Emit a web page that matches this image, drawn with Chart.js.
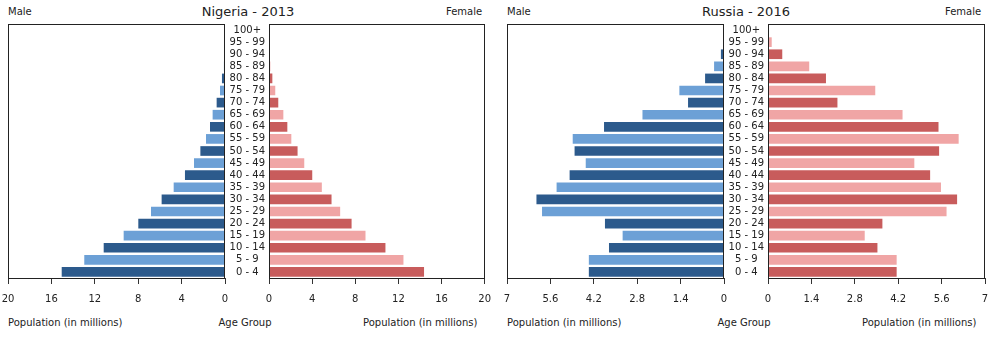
<!DOCTYPE html>
<html>
<head>
<meta charset="utf-8">
<script src="https://cdn.jsdelivr.net/npm/chart.js@4.4.0/dist/chart.umd.min.js"></script>
<style>
    body { margin: 0; background: #fff; overflow: hidden; }
    #wrap { position: relative; width: 994px; height: 350px; font-family: "DejaVu Sans", sans-serif; color: #222; }
    #wrap canvas { position: absolute; top: 0; }
    .lbl { position: absolute; font-size: 10px; line-height: 12px; white-space: nowrap; }
    .title { position: absolute; font-size: 13px; line-height: 16px; white-space: nowrap; transform: translateX(-50%); }
    .mid { transform: translateX(-50%); }
</style>
</head>
<body>
<div id="wrap">
    <div class="title" style="left:248px; top:4px">Nigeria - 2013</div>
    <div class="lbl" style="left:8px; top:6px">Male</div>
    <div class="lbl" style="left:446px; top:6px">Female</div>
    <div class="lbl" style="left:8px; top:317px">Population (in millions)</div>
    <div class="lbl mid" style="left:245px; top:317px">Age Group</div>
    <div class="lbl" style="left:363px; top:317px">Population (in millions)</div>

    <div class="title" style="left:746px; top:4px">Russia - 2016</div>
    <div class="lbl" style="left:507px; top:6px">Male</div>
    <div class="lbl" style="left:945px; top:6px">Female</div>
    <div class="lbl" style="left:507px; top:317px">Population (in millions)</div>
    <div class="lbl mid" style="left:744px; top:317px">Age Group</div>
    <div class="lbl" style="left:862px; top:317px">Population (in millions)</div>

    <canvas id="ng-male" width="247" height="310" style="left:-7px"></canvas>
    <canvas id="ng-female" width="275" height="310" style="left:225px"></canvas>
    <canvas id="ru-male" width="247" height="310" style="left:492px"></canvas>
    <canvas id="ru-female" width="276" height="310" style="left:724px"></canvas>
</div>
<script>
// age groups, youngest first (drawn bottom-up)
const ageGroups = [
    "0 - 4", "5 - 9", "10 - 14", "15 - 19", "20 - 24", "25 - 29", "30 - 34",
    "35 - 39", "40 - 44", "45 - 49", "50 - 54", "55 - 59", "60 - 64", "65 - 69",
    "70 - 74", "75 - 79", "80 - 84", "85 - 89", "90 - 94", "95 - 99", "100+",
];

// population in millions
const nigeriaMale = [15.05, 12.97, 11.18, 9.34, 7.99, 6.82, 5.84, 4.73, 3.69, 2.86, 2.27, 1.75, 1.38, 1.14, 0.77, 0.46, 0.28, 0.1, 0.04, 0.01, 0.002];
const nigeriaFemale = [14.38, 12.47, 10.8, 8.95, 7.66, 6.6, 5.8, 4.9, 4.01, 3.27, 2.65, 2.07, 1.7, 1.33, 0.86, 0.58, 0.31, 0.12, 0.05, 0.02, 0.003];
const russiaMale = [4.36, 4.36, 3.71, 3.27, 3.84, 5.87, 6.05, 5.4, 4.98, 4.46, 4.82, 4.88, 3.87, 2.63, 1.16, 1.44, 0.61, 0.32, 0.1, 0.02, 0.005];
const russiaFemale = [4.15, 4.15, 3.53, 3.12, 3.69, 5.76, 6.1, 5.58, 5.23, 4.72, 5.52, 6.15, 5.5, 4.34, 2.24, 3.46, 1.87, 1.33, 0.46, 0.12, 0.02];

const nigeriaTicks = [0, 4, 8, 12, 16, 20];
const russiaTicks = [0, 1.4, 2.8, 4.2, 5.6, 7];

const MALE_COLORS = ["#2c5a8c", "#6ca0d6"];
const FEMALE_COLORS = ["#c85c5c", "#f0a5a5"];

const framePlugin = {
    id: "frame",
    afterDraw(chart) {
        const { ctx, chartArea: a } = chart;
        ctx.save();
        ctx.strokeStyle = "#222";
        ctx.lineWidth = 1;
        ctx.strokeRect(Math.round(a.left) + 0.5, Math.round(a.top) + 0.5, Math.round(a.width) - 1, Math.round(a.height));
        ctx.restore();
    },
};

function makePanel(id, values, colors, ticks, isMale, padding) {
    new Chart(document.getElementById(id), {
        type: "bar",
        data: {
            labels: ageGroups,
            datasets: [
                {
                    data: values,
                    backgroundColor: values.map((_, i) => colors[i % 2]),
                    borderWidth: 0,
                    categoryPercentage: 1,
                    barPercentage: 0.8,
                },
            ],
        },
        options: {
            indexAxis: "y",
            responsive: false,
            animation: false,
            layout: { padding: padding },
            plugins: {
                legend: { display: false },
                tooltip: { enabled: false },
            },
            scales: {
                x: {
                    min: 0,
                    max: ticks[ticks.length - 1],
                    reverse: isMale,
                    afterBuildTicks: (scale) => {
                        scale.ticks = ticks.map((v) => ({ value: v }));
                    },
                    afterFit: (scale) => {
                        scale.height = 32;
                    },
                    border: { display: false },
                    grid: {
                        drawOnChartArea: false,
                        drawTicks: true,
                        tickLength: 6,
                        color: "#333",
                    },
                    ticks: {
                        padding: 9,
                        color: "#222",
                        font: { family: "DejaVu Sans", size: 10 },
                        callback: (v) => String(v),
                        maxRotation: 0,
                        autoSkip: false,
                    },
                },
                y: {
                    display: !isMale,
                    reverse: true,
                    afterFit: (scale) => {
                        // age labels sit in the gap between the two panels
                        scale.width = isMale ? 0 : 44;
                    },
                    border: { display: false },
                    grid: { display: false, drawTicks: false },
                    ticks: {
                        crossAlign: "center",
                        padding: 4,
                        color: "#222",
                        font: { family: "DejaVu Sans", size: 10 },
                        autoSkip: false,
                    },
                },
            },
        },
        plugins: [framePlugin],
    });
}

makePanel("ng-male", nigeriaMale, MALE_COLORS, nigeriaTicks, true, { left: 15, right: 15, top: 24, bottom: 0 });
makePanel("ng-female", nigeriaFemale, FEMALE_COLORS, nigeriaTicks, false, { left: 0, right: 15, top: 24, bottom: 0 });
makePanel("ru-male", russiaMale, MALE_COLORS, russiaTicks, true, { left: 15, right: 15, top: 24, bottom: 0 });
makePanel("ru-female", russiaFemale, FEMALE_COLORS, russiaTicks, false, { left: 0, right: 15, top: 24, bottom: 0 });
</script>
</body>
</html>
